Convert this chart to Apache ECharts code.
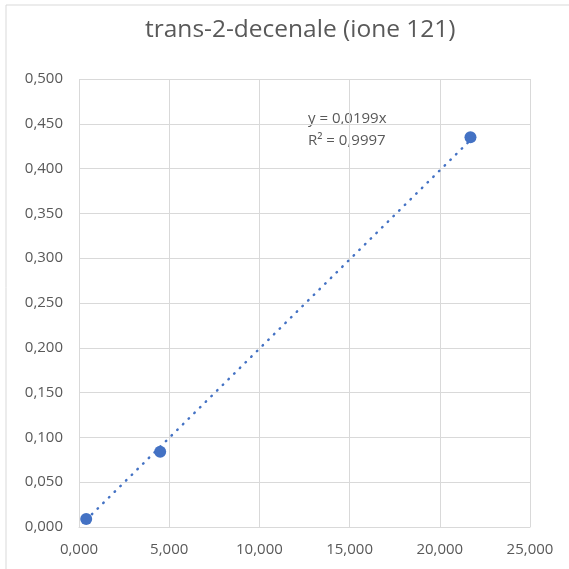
<!DOCTYPE html>
<html>
<head>
<meta charset="utf-8">
<script src="https://cdn.jsdelivr.net/npm/echarts@6/dist/echarts.min.js"></script>
<style>
  html, body { margin: 0; padding: 0; background: #fff; }
  #chart { width: 569px; height: 569px; }
</style>
</head>
<body>
<div id="chart"></div>
<script>
// concentration (x) vs area ratio (y)
const xValues = [0.4, 4.5, 21.7];
const yValues = [0.009, 0.084, 0.435];
const trendSlope = 0.0199;
const trendLabel = ["y = 0,0199x", "R² = 0,9997"];

const fmt = (v) => v.toFixed(3).replace(".", ",");

const points = xValues.map((x, i) => [x, yValues[i]]);
// linear trendline through origin, drawn between first and last x
const xMin = Math.min(...xValues);
const xMax = Math.max(...xValues);
const trend = [
  [xMin, trendSlope * xMin],
  [xMax, trendSlope * xMax],
];

const font = "Open Sans, Liberation Sans, sans-serif";
const chart = echarts.init(document.getElementById("chart"));
chart.setOption({
  animation: false,
  title: {
    text: "trans-2-decenale (ione 121)",
    left: 140,
    top: 13,
    textStyle: { fontFamily: font, fontSize: 24.5, fontWeight: "normal", color: "#595959" },
  },
  grid: { left: 79, right: 39, top: 79, bottom: 42, containLabel: false },
  xAxis: {
    type: "value",
    min: 0,
    max: 25,
    interval: 5,
    axisLine: { show: true, lineStyle: { color: "#d9d9d9" } },
    axisTick: { show: false },
    splitLine: { show: true, lineStyle: { color: "#d9d9d9" } },
    axisLabel: { formatter: fmt, color: "#595959", fontFamily: font, fontSize: 15, margin: 15 },
  },
  yAxis: {
    type: "value",
    min: 0,
    max: 0.5,
    interval: 0.05,
    axisLine: { show: false },
    axisTick: { show: false },
    splitLine: { show: true, lineStyle: { color: "#d9d9d9" } },
    axisLabel: { formatter: fmt, color: "#595959", fontFamily: font, fontSize: 15, margin: 16 },
  },
  series: [
    {
      type: "line",
      data: trend,
      symbol: "none",
      lineStyle: { color: "#4472C4", width: 2.5, type: [0.5, 7.5], cap: "round" },
      silent: true,
    },
    {
      type: "scatter",
      data: points,
      symbolSize: 12,
      itemStyle: { color: "#4472C4", opacity: 1 },
    },
  ],
  graphic: [
    {
      type: "rect",
      shape: { x: 6, y: 5, width: 600, height: 600 },
      style: { fill: "none", stroke: "#d9d9d9", lineWidth: 1 },
      silent: true,
    },
    {
      type: "text",
      left: 308,
      top: 108,
      style: {
        text: trendLabel.join("\n"),
        fill: "#595959",
        font: "15px " + font,
        lineHeight: 22,
      },
    },
  ],
});
</script>
</body>
</html>
